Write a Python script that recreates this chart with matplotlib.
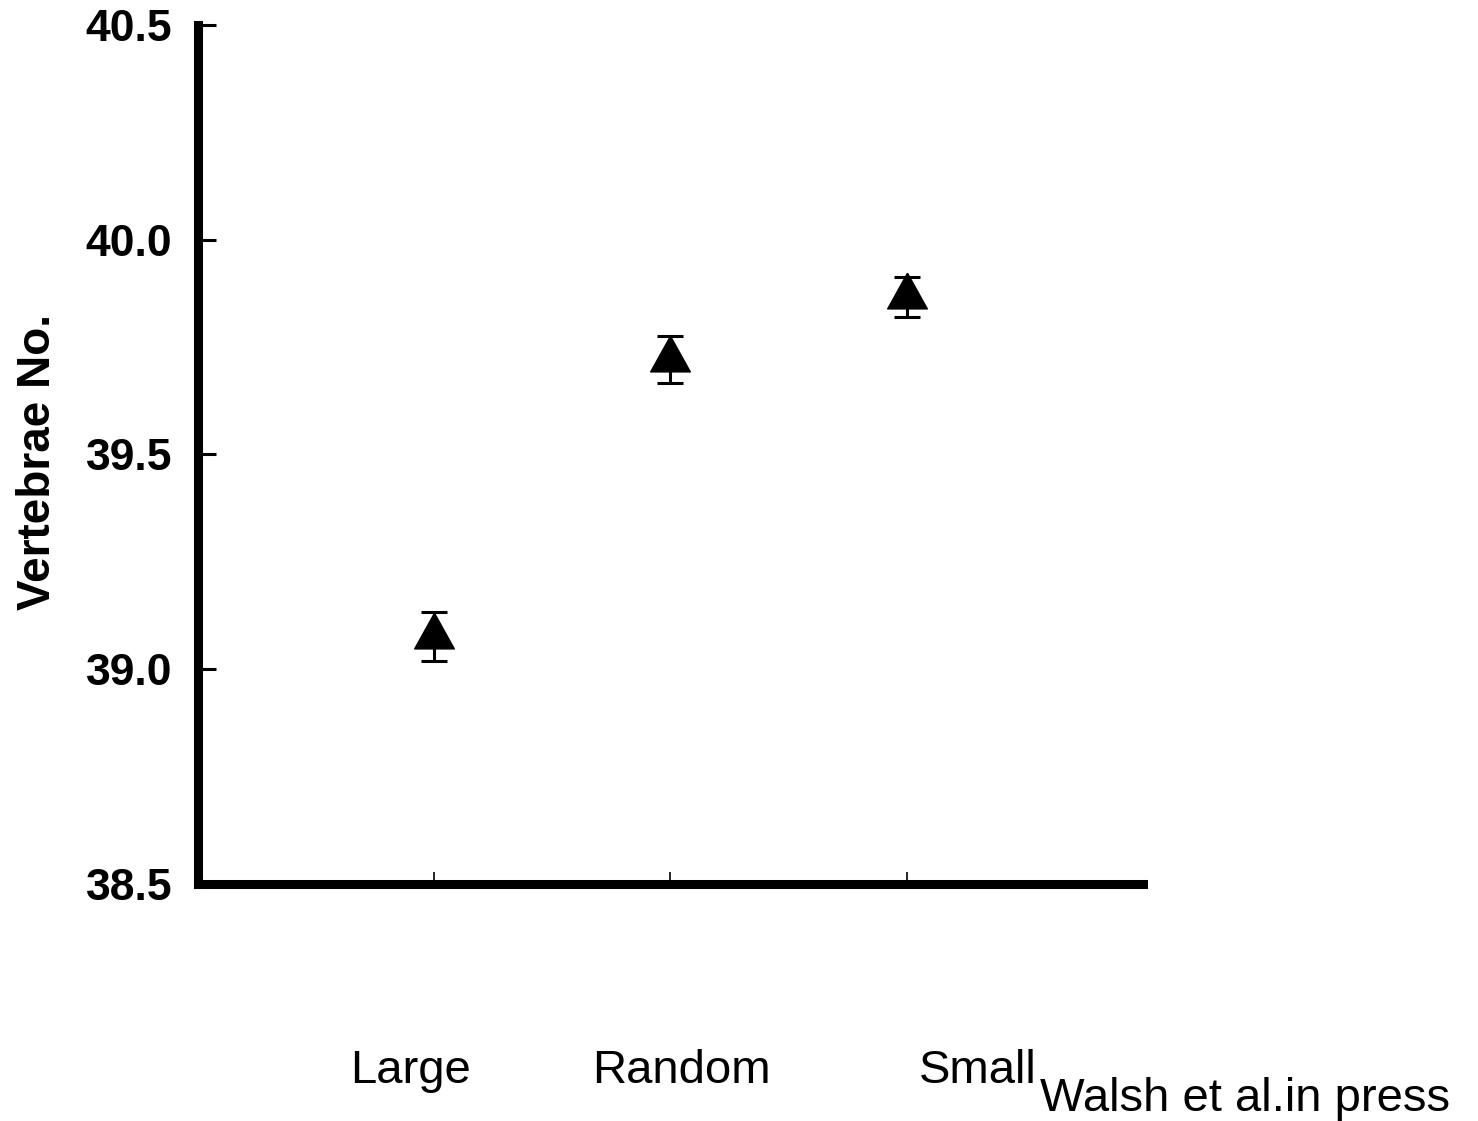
import matplotlib
matplotlib.use("Agg")
import matplotlib.pyplot as plt
import numpy as np

plt.rcParams['font.family'] = ['Liberation Sans', 'DejaVu Sans']

# Mean vertebrae count per selection line, with standard errors
categories = ["Large", "Random", "Small"]
means = [39.075, 39.72, 39.866]
errors = [0.057, 0.055, 0.047]
y_ticks = [38.5, 39.0, 39.5, 40.0, 40.5]
y_tick_labels = ["38.5", "39.0", "39.5", "40.0", "40.5"]
credit = "Walsh et al.in press"

W, H = 1478, 1121
fig = plt.figure(figsize=(W / 100, H / 100), dpi=100)
ax = fig.add_axes([197.5 / W, 1 - 883.5 / H, (1143.5 - 197.5) / W, (883.5 - 25) / H])

x = np.arange(1, len(categories) + 1)

# triangle with its apex at the upper end of the error bar
tri = [(0, 1.0), (-0.816, -0.469), (0.816, -0.469), (0, 1.0)]
ax.errorbar(x, means, yerr=errors, fmt='none', ecolor='black',
            elinewidth=2.2, capsize=9.5, capthick=2.2, zorder=2)
ax.plot(x, means, linestyle='none', marker=tri, markersize=35,
        color='black', zorder=3)

ax.set_xlim(0, 4)
ax.set_ylim(38.5, 40.5)
ax.set_xticks(x)
ax.set_xticklabels([])
ax.set_yticks(y_ticks)
ax.set_yticklabels(y_tick_labels, fontsize=32, fontweight='bold')
ax.tick_params(axis='y', direction='in', length=13, width=2.2, pad=18)
ax.tick_params(axis='x', direction='in', length=8.5, width=1.2)

for side in ('top', 'right'):
    ax.spines[side].set_visible(False)
for side in ('left', 'bottom'):
    ax.spines[side].set_linewidth(6.5)
    ax.spines[side].set_capstyle('projecting')

ax.set_ylabel("Vertebrae No.", fontsize=33, fontweight='bold')
ax.yaxis.set_label_coords(-0.145, 0.491)

# category names below the axis
label_x = [410, 681, 978]
for name, px in zip(categories, label_x):
    fig.text(px / W, 1 - 1071 / H, name, fontsize=34,
             ha='center', va='center')

fig.text(1040 / W, 1 - 1111 / H, credit, fontsize=34,
         ha='left', va='baseline')

fig.savefig("out.png", dpi=100, facecolor='white')
